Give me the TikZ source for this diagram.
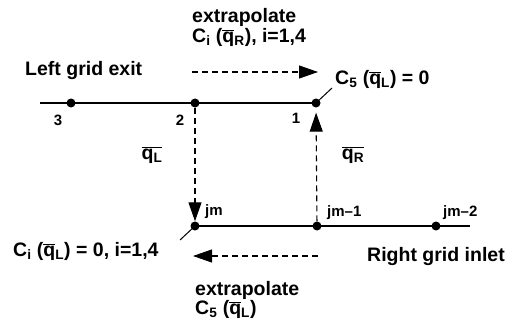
\documentclass[tikz,border=0pt]{standalone}
\usepackage{fontspec}
\setmainfont{Liberation Sans}
\usetikzlibrary{arrows.meta}
\newcommand{\qbar}{$\overline{\mbox{q}}$}
\newcommand{\qbarsub}[1]{$\overline{\mbox{q\textsubscript{#1}}}$}
\begin{document}
\begin{tikzpicture}[x=1pt,y=-1pt,
 lbl/.style={font=\fontsize{19.5}{21}\selectfont\bfseries, inner sep=0pt, anchor=west},
 sml/.style={font=\fontsize{15}{16}\selectfont\bfseries, inner sep=0pt},
 dot/.style={circle, fill=black, minimum size=9pt, inner sep=0pt},
 gridline/.style={line width=1.6pt},
 dsh/.style={dash pattern=on 6pt off 4pt, line width=1.1pt},
 tip/.style={-{Triangle[length=19pt,width=13pt]}},
 leader/.style={line width=1pt}]
\useasboundingbox (0,0) rectangle (509,329);
% grid points
\node[dot] (n3) at (71,103) {};
\node[dot] (n2) at (195,103) {};
\node[dot] (n1) at (316,103) {};
\node[dot] (jm) at (195,226) {};
\node[dot] (jm1) at (317,226) {};
\node[dot] (jm2) at (436,226) {};
\coordinate (tl) at (40,103);
\coordinate (br) at (470,226);
\draw[gridline] (tl) -- (n1.center);
\draw[gridline] (jm.center) -- (br);
% vertical transfers
\draw[dsh,tip] (n2) -- (jm);
\draw[dsh,tip,shorten >=5pt] (jm1) -- (n1);
% horizontal extrapolation arrows
\coordinate (ta) at (192,72);
\coordinate (tb) at (318,72);
\draw[dsh,tip] (ta) -- (tb);
\coordinate (ba) at (318,256);
\coordinate (bb) at (193,256);
\draw[dsh,tip] (ba) -- (bb);
% labels
\node[lbl] (ex1) at (192,17) {extrapolate};
\node[lbl] (ex1b) at (192,37) {C\textsubscript{i} (\qbar\textsubscript{R}), i=1,4};
\node[lbl] (lge) at (25,71) {Left grid exit};
\node[lbl] (c5) at (335,79) {C\textsubscript{5} (\qbar\textsubscript{L}) = 0};
\coordinate (c5l) at (332,88);
\draw[leader] (n1.center) -- (c5l);
\node[sml] (l3) at (58,120) {3};
\node[sml] (l2) at (180,120) {2};
\node[sml] (l1) at (296,118) {1};
\node[lbl,anchor=center] (qL) at (152,155) {\qbarsub{L}};
\node[lbl,anchor=center] (qR) at (353,155) {\qbarsub{R}};
\node[sml,anchor=west] (ljm) at (205,212) {jm};
\node[sml,anchor=west] (ljm1) at (327,213) {jm\textendash1};
\node[sml,anchor=west] (ljm2) at (443,213) {jm\textendash2};
\node[lbl] (ci) at (13,251) {C\textsubscript{i} (\qbar\textsubscript{L}) = 0, i=1,4};
\coordinate (cil) at (180,240);
\draw[leader] (jm.center) -- (cil);
\node[lbl] (rgi) at (367,257) {Right grid inlet};
\node[lbl] (ex2) at (195,290) {extrapolate};
\node[lbl] (ex2b) at (195,309) {C\textsubscript{5} (\qbar\textsubscript{L})};
\end{tikzpicture}
\end{document}
